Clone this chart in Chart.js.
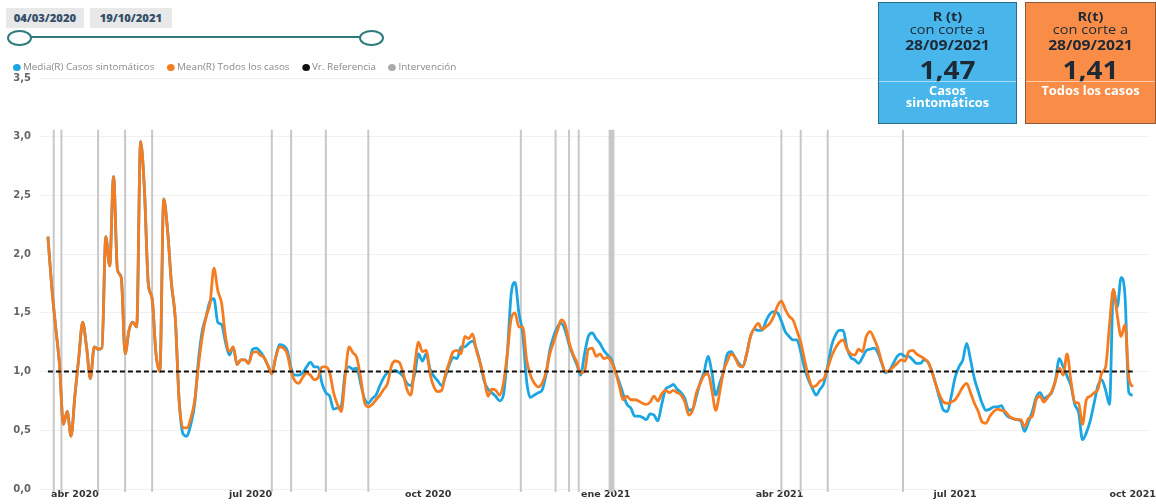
<!DOCTYPE html>
<html lang="es">
<head>
<meta charset="utf-8">
<title>R(t) Casos sintomáticos y todos los casos</title>
<script src="https://cdn.jsdelivr.net/npm/chart.js@4.4.1/dist/chart.umd.min.js"></script>
<style>
  html, body { margin: 0; padding: 0; background: #fff; }
  body { width: 1156px; height: 504px; position: relative; overflow: hidden; font-family: "Open Sans", "Noto Sans", sans-serif; }
  #grafico { position: absolute; left: 0; top: 0; }
  .fecha { position: absolute; top: 8px; height: 20px; line-height: 20px; background: #e8e8e8; color: #34506b; font-size: 10px; font-weight: 700; text-align: center; }
  .fecha b { display: inline-block; transform: scaleX(1.12); }
  .pista { position: absolute; left: 30px; top: 36px; width: 332px; height: 2px; background: #2f7a7c; }
  .bola { position: absolute; top: 30px; width: 21px; height: 12px; border: 2px solid #2f7a7c; border-radius: 50%; background: #fff; }
  .leyenda { position: absolute; left: 13px; top: 60px; font-size: 9px; color: #8a8a8a; white-space: nowrap; transform: scaleX(1.1); transform-origin: 0 0; }
  .leyenda span { display: inline-block; margin-right: 9px; }
  .leyenda i { display: inline-block; width: 7px; height: 7px; border-radius: 50%; margin-right: 2px; vertical-align: -1px; }
  .tarjeta { position: absolute; top: 2px; height: 122px; border: 1px solid; box-sizing: border-box; text-align: center; color: #1d2935; }
  .tarjeta div { position: absolute; left: 0; right: 0; white-space: nowrap; transform: scaleX(1.12); }
  .t1 { top: 4px; font-size: 13px; font-weight: 700; line-height: 18px; }
  .t2 { top: 17px; font-size: 13px; line-height: 18px; }
  .t3 { top: 32px; font-size: 14px; font-weight: 700; line-height: 19px; }
  .t4 { top: 51px; font-size: 25px; font-weight: 700; line-height: 30px; }
  .tarjeta .raya { top: 78px; height: 1px; background: rgba(255,255,255,0.55); transform: none; }
  .t5 { top: 81px; font-size: 11.5px; font-weight: 700; line-height: 13px; color: #fff; }
  .t6 { top: 93px; font-size: 11.5px; font-weight: 700; line-height: 13px; color: #fff; }
</style>
</head>
<body>
<canvas id="grafico" width="1156" height="504"></canvas>

<div class="fecha" style="left:6px;width:78px;"><b>04/03/2020</b></div>
<div class="fecha" style="left:90px;width:82px;"><b>19/10/2021</b></div>
<div class="pista"></div>
<div class="bola" style="left:7px;"></div>
<div class="bola" style="left:359px;"></div>

<div class="leyenda">
  <span><i style="background:#1ba6e2"></i>Media(R) Casos sintomáticos</span>
  <span><i style="background:#f57c20"></i>Mean(R) Todos los casos</span>
  <span><i style="background:#111"></i>Vr. Referencia</span>
  <span><i style="background:#aaa"></i>Intervención</span>
</div>

<div class="tarjeta" style="left:878px;width:139px;background:#48b6ea;border-color:#2d6a8a;">
  <div class="t1">R (t)</div>
  <div class="t2">con corte a</div>
  <div class="t3">28/09/2021</div>
  <div class="t4">1,47</div>
  <div class="raya"></div>
  <div class="t5">Casos</div>
  <div class="t6">sintomáticos</div>
</div>
<div class="tarjeta" style="left:1025px;width:131px;background:#f98d48;border-color:#8e5a38;">
  <div class="t1">R(t)</div>
  <div class="t2">con corte a</div>
  <div class="t3">28/09/2021</div>
  <div class="t4">1,41</div>
  <div class="raya"></div>
  <div class="t5">Todos los casos</div>
</div>

<script>
// series start on this date, one value every 2 days
const inicioSerie = "2020-03-18";
const pasoDias = 2;

const casosSintomaticos = [
  2.15, 1.72, 1.38, 1.06, 0.55, 0.66, 0.45, 0.80, 1.12, 1.42,
  1.21, 0.94, 1.21, 1.19, 1.20, 2.15, 1.90, 2.66, 1.87, 1.80,
  1.15, 1.35, 1.42, 1.38, 2.96, 2.55, 1.75, 1.62, 1.15, 1.00,
  2.47, 2.20, 1.75, 1.45, 0.75, 0.47, 0.45, 0.55, 0.72, 1.10,
  1.35, 1.47, 1.60, 1.62, 1.42, 1.40, 1.25, 1.14, 1.21, 1.06,
  1.10, 1.10, 1.07, 1.19, 1.20, 1.17, 1.12, 1.05, 0.98, 1.12,
  1.23, 1.22, 1.18, 1.03, 0.97, 0.97, 0.99, 1.04, 1.08, 1.04,
  1.04, 0.90, 0.82, 0.79, 0.68, 0.69, 0.71, 0.99, 1.04, 1.02,
  1.03, 0.90, 0.77, 0.73, 0.77, 0.80, 0.88, 0.95, 0.99, 1.00,
  1.01, 0.99, 0.96, 0.90, 0.88, 0.98, 1.15, 1.09, 1.15, 1.02,
  0.96, 0.92, 0.88, 0.96, 1.06, 1.12, 1.11, 1.21, 1.21, 1.24,
  1.26, 1.19, 1.07, 0.92, 0.85, 0.82, 0.79, 0.75, 0.80, 1.15,
  1.66, 1.76, 1.50, 1.32, 0.92, 0.78, 0.80, 0.82, 0.84, 0.97,
  1.18, 1.30, 1.38, 1.41, 1.35, 1.23, 1.14, 1.06, 0.97, 1.15,
  1.30, 1.33, 1.28, 1.24, 1.18, 1.14, 1.10, 1.00, 0.91, 0.81,
  0.72, 0.69, 0.62, 0.62, 0.61, 0.59, 0.64, 0.63, 0.58, 0.72,
  0.85, 0.87, 0.89, 0.85, 0.82, 0.77, 0.67, 0.68, 0.79, 0.91,
  1.00, 1.13, 0.99, 0.80, 0.90, 1.00, 1.15, 1.17, 1.12, 1.07,
  1.04, 1.15, 1.30, 1.36, 1.35, 1.35, 1.43, 1.49, 1.51, 1.50,
  1.43, 1.34, 1.30, 1.27, 1.27, 1.17, 1.03, 0.93, 0.86, 0.80,
  0.85, 0.90, 1.05, 1.22, 1.31, 1.35, 1.35, 1.20, 1.12, 1.10,
  1.07, 1.12, 1.18, 1.19, 1.20, 1.16, 1.07, 0.99, 1.01, 1.07,
  1.13, 1.15, 1.13, 1.13, 1.10, 1.07, 1.07, 1.10, 1.08, 1.00,
  0.89, 0.77, 0.67, 0.66, 0.79, 0.95, 1.04, 1.10, 1.24, 1.10,
  0.94, 0.83, 0.73, 0.67, 0.68, 0.70, 0.70, 0.71, 0.64, 0.61,
  0.60, 0.59, 0.58, 0.49, 0.57, 0.66, 0.78, 0.82, 0.77, 0.79,
  0.82, 0.93, 1.11, 1.04, 0.96, 0.88, 0.72, 0.65, 0.42, 0.48,
  0.58, 0.73, 0.88, 0.93, 0.84, 0.72, 1.70, 1.55, 1.80, 1.65,
  0.82, 0.80
];

const todosLosCasos = [
  2.15, 1.72, 1.38, 1.06, 0.55, 0.66, 0.45, 0.80, 1.12, 1.42,
  1.21, 0.94, 1.21, 1.19, 1.20, 2.15, 1.90, 2.66, 1.87, 1.80,
  1.15, 1.35, 1.42, 1.38, 2.96, 2.55, 1.75, 1.62, 1.15, 1.00,
  2.47, 2.20, 1.75, 1.45, 0.75, 0.52, 0.52, 0.60, 0.75, 1.05,
  1.30, 1.47, 1.58, 1.88, 1.69, 1.58, 1.30, 1.17, 1.21, 1.06,
  1.10, 1.10, 1.07, 1.16, 1.17, 1.14, 1.12, 1.05, 0.98, 1.12,
  1.21, 1.20, 1.15, 1.00, 0.92, 0.90, 0.95, 0.99, 0.97, 0.93,
  0.95, 1.04, 1.04, 0.99, 0.82, 0.72, 0.66, 0.96, 1.21, 1.16,
  1.12, 0.95, 0.74, 0.70, 0.72, 0.76, 0.80, 0.85, 0.90, 1.05,
  1.09, 1.08, 0.99, 0.85, 0.80, 1.05, 1.25, 1.17, 1.18, 0.98,
  0.87, 0.83, 0.84, 0.98, 1.08, 1.17, 1.18, 1.15, 1.30, 1.28,
  1.32, 1.18, 1.07, 0.94, 0.79, 0.85, 0.84, 0.80, 0.90, 1.15,
  1.45, 1.50, 1.38, 1.38, 1.10, 0.97, 0.90, 0.87, 0.90, 0.99,
  1.15, 1.25, 1.35, 1.44, 1.40, 1.25, 1.15, 1.08, 0.99, 1.00,
  1.19, 1.20, 1.13, 1.15, 1.11, 1.12, 1.08, 1.00, 0.88, 0.76,
  0.79, 0.76, 0.76, 0.75, 0.73, 0.72, 0.74, 0.79, 0.75, 0.81,
  0.84, 0.82, 0.84, 0.82, 0.80, 0.74, 0.63, 0.67, 0.82, 0.90,
  0.97, 0.98, 0.84, 0.67, 0.82, 1.00, 1.09, 1.15, 1.12, 1.05,
  1.04, 1.15, 1.30, 1.37, 1.41, 1.36, 1.38, 1.41, 1.47, 1.56,
  1.60, 1.53, 1.47, 1.44, 1.35, 1.25, 1.10, 0.96, 0.87, 0.88,
  0.92, 0.94, 1.03, 1.13, 1.20, 1.25, 1.27, 1.19, 1.15, 1.14,
  1.19, 1.17, 1.30, 1.34, 1.28, 1.20, 1.08, 1.00, 1.01, 1.04,
  1.07, 1.10, 1.09, 1.17, 1.18, 1.15, 1.13, 1.11, 1.08, 1.00,
  0.89, 0.80, 0.74, 0.73, 0.74, 0.76, 0.81, 0.87, 0.90, 0.82,
  0.73, 0.66, 0.57, 0.56, 0.62, 0.66, 0.68, 0.67, 0.66, 0.62,
  0.60, 0.59, 0.59, 0.53, 0.60, 0.62, 0.76, 0.79, 0.74, 0.78,
  0.83, 0.92, 1.03, 0.97, 1.15, 0.92, 0.74, 0.73, 0.55, 0.76,
  0.79, 0.82, 0.85, 0.99, 1.04, 1.40, 1.70, 1.48, 1.30, 1.40,
  0.95, 0.87
];

const valorReferencia = 1;

const fechasIntervencion = [
  "2020-03-21", "2020-03-25", "2020-04-13", "2020-04-27", "2020-05-11",
  "2020-07-12", "2020-07-22", "2020-08-09", "2020-08-31", "2020-11-18",
  "2020-12-06", "2020-12-13", "2020-12-18", "2021-01-03", "2021-01-04",
  "2021-01-05", "2021-04-02", "2021-04-12", "2021-04-26", "2021-06-04"
];

const fechasMes = ["2020-04-01", "2020-07-01", "2020-10-01", "2021-01-01", "2021-04-01", "2021-07-01", "2021-10-01"];
const etiquetasMes = ["abr 2020", "jul 2020", "oct 2020", "ene 2021", "abr 2021", "jul 2021", "oct 2021"];

// days counted from 1 March 2020
function dia(fecha) {
  return (Date.parse(fecha) - Date.parse("2020-03-01")) / 86400000;
}

const x0 = dia(inicioSerie);
const puntos = serie => serie.map((v, i) => ({ x: x0 + i * pasoDias, y: v }));
const xFin = x0 + (todosLosCasos.length - 1) * pasoDias;

const lineasIntervencion = [];
fechasIntervencion.forEach(f => {
  const d = dia(f);
  lineasIntervencion.push({ x: d, y: -0.025 }, { x: d, y: 3.06 }, { x: d, y: null });
});

const ctx = document.getElementById("grafico").getContext("2d");
new Chart(ctx, {
  type: "line",
  data: {
    datasets: [
      {
        label: "Media(R) Casos sintomáticos",
        data: puntos(casosSintomaticos),
        borderColor: "#1ba6e2",
        borderWidth: 2.8,
        cubicInterpolationMode: "monotone",
        order: 2
      },
      {
        label: "Mean(R) Todos los casos",
        data: puntos(todosLosCasos),
        borderColor: "#f57c20",
        borderWidth: 2.8,
        cubicInterpolationMode: "monotone",
        order: 1
      },
      {
        label: "Vr. Referencia",
        data: [{ x: x0, y: valorReferencia }, { x: xFin, y: valorReferencia }],
        borderColor: "#111",
        borderWidth: 2,
        borderDash: [5, 3],
        order: 0
      },
      {
        label: "Intervención",
        data: lineasIntervencion,
        borderColor: "#c8c8c8",
        borderWidth: 2,
        spanGaps: false,
        clip: false,
        order: 3
      }
    ]
  },
  options: {
    responsive: false,
    animation: false,
    elements: { point: { radius: 0 } },
    layout: { padding: { top: 78, right: 6, left: 0, bottom: 0 } },
    plugins: {
      legend: { display: false },
      tooltip: { enabled: false }
    },
    scales: {
      x: {
        type: "linear",
        min: 12.9,
        max: 587.7,
        grid: { display: false, drawTicks: false },
        border: { display: false },
        afterBuildTicks: s => { s.ticks = fechasMes.map(f => ({ value: dia(f) })); },
        afterFit: s => { s.height = 14; },
        ticks: {
          autoSkip: false,
          maxRotation: 0,
          padding: 0,
          color: "#333",
          font: { family: "DejaVu Sans", size: 9.5, weight: "bold" },
          callback: (v, i) => etiquetasMes[i]
        }
      },
      y: {
        min: 0,
        max: 3.5,
        grid: { color: "#f1f1f1", drawTicks: false },
        border: { display: false },
        afterFit: s => { s.width = 40; },
        ticks: {
          stepSize: 0.5,
          padding: 9,
          color: "#666",
          font: { family: "DejaVu Sans", size: 10, weight: "bold" },
          callback: v => v.toFixed(1).replace(".", ",")
        }
      }
    }
  }
});
</script>
</body>
</html>
